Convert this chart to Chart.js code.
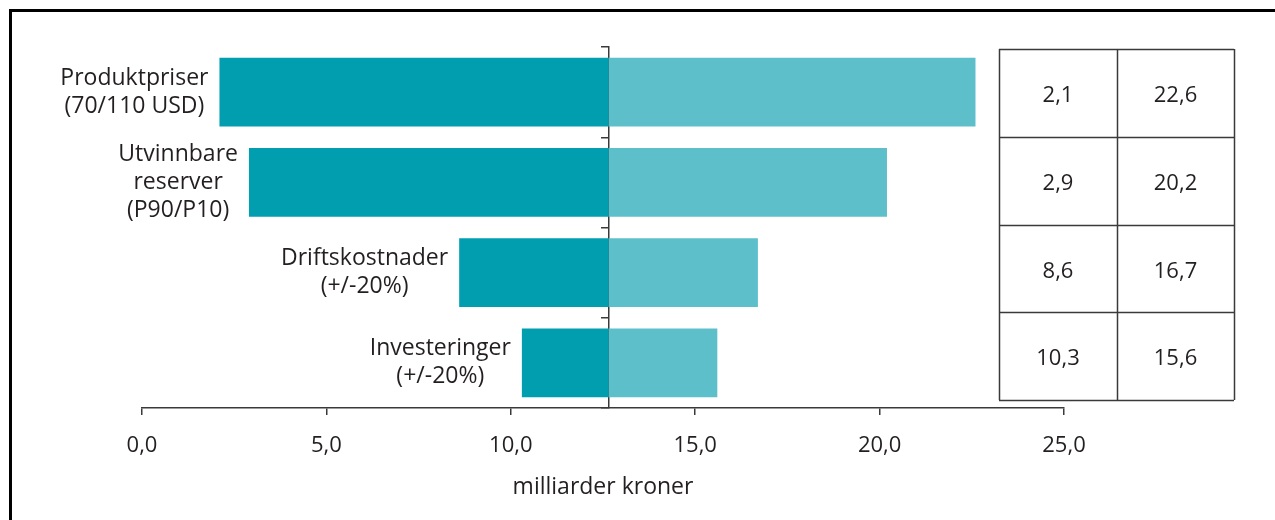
<!DOCTYPE html>
<html>
<head>
<meta charset="utf-8">
<script src="https://cdn.jsdelivr.net/npm/chart.js@4"></script>
<style>
  html, body { margin: 0; padding: 0; background: #fff; }
  #wrap { width: 1275px; height: 520px; }
</style>
</head>
<body>
<div id="wrap"><canvas id="tornado" width="1275" height="520"></canvas></div>
<script>
'use strict';

// values (milliarder kroner)
const categories = [
    ['Produktpriser', '(70/110 USD)'],
    ['Utvinnbare', 'reserver', '(P90/P10)'],
    ['Driftskostnader', '(+/-20%)'],
    ['Investeringer', '(+/-20%)']
];
const lowValues = [2.1, 2.9, 8.6, 10.3];
const highValues = [22.6, 20.2, 16.7, 15.6];
const baseValue = 12.65;
const xTicks = [0, 5, 10, 15, 20, 25];
const axisTitle = 'milliarder kroner';

const DARK = '#019eb0';
const LIGHT = '#5cbfca';
const INK = '#231f20';
const LINE = '#3a3a3a';
const FONT = '"Open Sans", "DejaVu Sans", sans-serif';

const fmt = v => v.toFixed(1).replace('.', ',');

// frame, category labels and the value table
const extrasPlugin = {
    id: 'extras',
    beforeDraw(chart) {
        const c = chart.ctx;
        c.save();
        c.fillStyle = '#000';
        c.fillRect(9, 9, chart.width - 9, 3);
        c.fillRect(9, 9, 3, chart.height - 9);
        c.restore();
    },
    afterDraw(chart) {
        const c = chart.ctx;
        const x = chart.scales.x;
        const y = chart.scales.y;
        const area = chart.chartArea;
        c.save();
        c.fillStyle = INK;
        c.font = '23px ' + FONT;
        c.textBaseline = 'middle';
        c.textAlign = 'center';

        // labels left of each low bar, lines centred on each other
        const lineH = 28;
        categories.forEach((lines, i) => {
            const widest = Math.max(...lines.map(l => c.measureText(l).width));
            const cx = x.getPixelForValue(lowValues[i]) - 11 - widest / 2;
            const cy = y.getPixelForValue(i);
            const top = cy - (lines.length - 1) * lineH / 2;
            lines.forEach((l, j) => c.fillText(l, cx, top + j * lineH));
        });

        // table of low/high values
        const colX = [area.right - 65, area.right + 53, area.right + 170];
        const tTop = area.top + 2;
        const tBottom = area.bottom - 8;
        const rowH = (tBottom - tTop) / categories.length;
        c.strokeStyle = LINE;
        c.lineWidth = 1.5;
        c.beginPath();
        for (let r = 0; r <= categories.length; r++) {
            const ry = Math.round(tTop + r * rowH) + 0.5;
            c.moveTo(colX[0], ry);
            c.lineTo(colX[2], ry);
        }
        colX.forEach(cx => {
            c.moveTo(Math.round(cx) + 0.5, tTop);
            c.lineTo(Math.round(cx) + 0.5, tBottom);
        });
        c.stroke();

        c.font = '22px ' + FONT;
        categories.forEach((_, i) => {
            const ry = tTop + (i + 0.5) * rowH + 3;
            c.fillText(fmt(lowValues[i]), (colX[0] + colX[1]) / 2, ry);
            c.fillText(fmt(highValues[i]), (colX[1] + colX[2]) / 2, ry);
        });
        c.restore();
    }
};

const ctx = document.getElementById('tornado');

new Chart(ctx, {
    type: 'bar',
    data: {
        labels: categories.map(l => l.join(' ')),
        datasets: [
            {
                label: 'Lav',
                data: lowValues.map(v => [v, baseValue]),
                backgroundColor: DARK,
                grouped: false,
                barPercentage: 0.76,
                categoryPercentage: 1
            },
            {
                label: 'Høy',
                data: highValues.map(v => [baseValue, v]),
                backgroundColor: LIGHT,
                grouped: false,
                barPercentage: 0.76,
                categoryPercentage: 1
            }
        ]
    },
    options: {
        indexAxis: 'y',
        responsive: false,
        animation: false,
        layout: { padding: { left: 142, right: 211, top: 47, bottom: 0 } },
        plugins: {
            legend: { display: false },
            tooltip: { enabled: false }
        },
        scales: {
            x: {
                min: 0,
                max: 25,
                afterBuildTicks: s => { s.ticks = xTicks.map(v => ({ value: v })); },
                afterFit: s => { s.height = 112; },
                border: { color: LINE, width: 1.5 },
                grid: { drawOnChartArea: false, drawTicks: true, tickLength: 7, color: LINE, lineWidth: 1.5 },
                ticks: {
                    padding: 18,
                    color: INK,
                    font: { family: FONT, size: 22 },
                    callback: v => fmt(v)
                },
                title: {
                    display: true,
                    text: axisTitle,
                    color: INK,
                    font: { family: FONT, size: 23 },
                    padding: { top: 0, bottom: 19 }
                }
            },
            y: {
                position: { x: baseValue },
                border: { color: LINE, width: 1.5 },
                grid: { offset: true, drawOnChartArea: false, drawTicks: true, tickLength: 7, color: LINE, lineWidth: 1.5 },
                ticks: { display: false }
            }
        }
    },
    plugins: [extrasPlugin]
});
</script>
</body>
</html>
